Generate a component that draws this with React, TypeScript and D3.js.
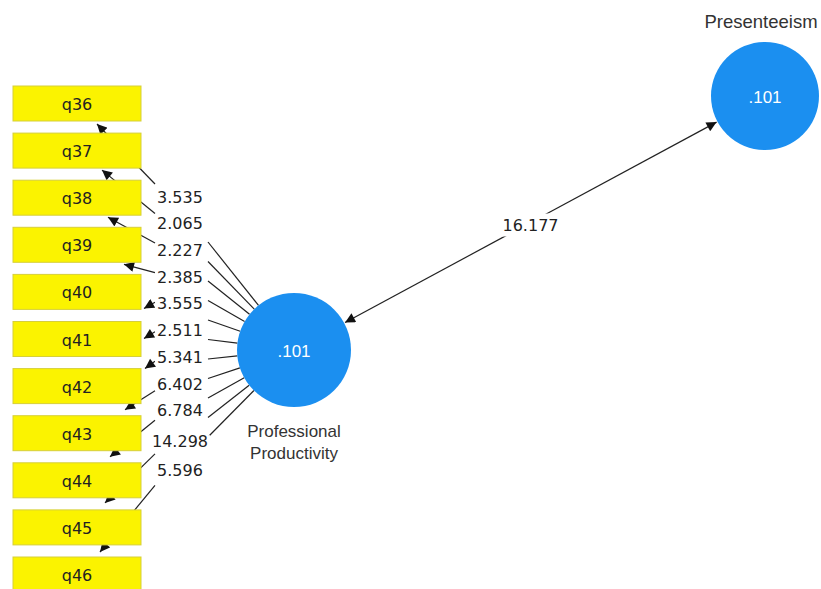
import { useEffect, useRef } from 'react';
import * as d3 from 'd3';

// indicators of "Professional Productivity"
const INDICATORS = ['q36', 'q37', 'q38', 'q39', 'q40', 'q41', 'q42', 'q43', 'q44', 'q45', 'q46'];
const T_VALUES = [3.535, 2.065, 2.227, 2.385, 3.555, 2.511, 5.341, 6.402, 6.784, 14.298, 5.596];

const CONSTRUCTS = ['Professional Productivity', 'Presenteeism'];
const R2_VALUES = [0.101, 0.101];
const PATH_T = 16.177;

// layout: where each arrow lands relative to its box (dx from left, dy from top)
const TIP_DX = [84, 89, 95, 111, 131, 131, 132, 112, 97, 92, 87];
const TIP_DY = [38, 37, 37, 37, 34, 17, 0, -6, -6, -7, -5];
const LABEL_SHIFT = [0, 0, 0, 0, 0, 0, 0, 0, 0, 4, 6];

const W = 821;
const H = 589;

export default function App() {
  const svgRef = useRef<SVGSVGElement>(null);

  useEffect(() => {
    const el = svgRef.current;
    if (!el) return;
    const svg = d3.select(el);
    svg.selectAll('*').remove();

    const boxX = 13, boxW = 128, boxH = 35;
    const idx = d3.scaleLinear().domain([0, INDICATORS.length - 1]);
    const boxY = idx.copy().range([86, 557]);
    const labelY = idx.copy().range([197, 464.4]);
    const rightY = idx.copy().range([242, 437]);
    const leftOff = idx.copy().range([-13, 15]);
    const labelX = 180;

    const pp = { x: 294, y: 350, r: 57 };
    const pres = { x: 765, y: 96, r: 54 };

    const defs = svg.append('defs');
    defs.append('marker')
      .attr('id', 'ah')
      .attr('viewBox', '0 0 10 10')
      .attr('refX', 10).attr('refY', 5)
      .attr('markerWidth', 11).attr('markerHeight', 10)
      .attr('markerUnits', 'userSpaceOnUse')
      .attr('orient', 'auto-start-reverse')
      .append('path').attr('d', 'M0,0 L10,5 L0,10 Z').attr('fill', '#111');

    svg.append('rect').attr('width', W).attr('height', H).attr('fill', '#fff');

    const g = svg.append('g');

    // connector lines: circle -> right of label, left of label -> indicator
    INDICATORS.forEach((_, i) => {
      const ly = labelY(i) + LABEL_SHIFT[i];
      const rx = 208, ry = rightY(i);
      const a = Math.atan2(ry - pp.y, rx - pp.x);
      g.append('line')
        .attr('x1', pp.x + pp.r * Math.cos(a)).attr('y1', pp.y + pp.r * Math.sin(a))
        .attr('x2', rx).attr('y2', ry)
        .attr('stroke', '#222').attr('stroke-width', 1.2);
      const tx = boxX + TIP_DX[i], ty = boxY(i) + TIP_DY[i];
      g.append('line')
        .attr('x1', 155).attr('y1', ly + leftOff(i))
        .attr('x2', tx).attr('y2', ty)
        .attr('stroke', '#222').attr('stroke-width', 1.2)
        .attr('marker-end', 'url(#ah)');
    });

    // indicator boxes
    const boxes = g.selectAll('.box').data(INDICATORS).join('g').attr('class', 'box');
    boxes.append('rect')
      .attr('x', boxX).attr('y', (_, i) => boxY(i))
      .attr('width', boxW).attr('height', boxH)
      .attr('fill', '#fbf300').attr('stroke', '#d6cf3a').attr('stroke-width', 1);
    boxes.append('text')
      .attr('x', boxX + boxW / 2).attr('y', (_, i) => boxY(i) + boxH / 2 + 1)
      .attr('text-anchor', 'middle').attr('dominant-baseline', 'central')
      .attr('font-family', "'DejaVu Sans', Verdana, sans-serif").attr('font-size', 16)
      .attr('fill', '#222')
      .text((d) => d);

    // t-value labels
    T_VALUES.forEach((v, i) => {
      const ly = labelY(i) + LABEL_SHIFT[i];
      const t = g.append('text')
        .attr('x', labelX).attr('y', ly)
        .attr('text-anchor', 'middle').attr('dominant-baseline', 'central')
        .attr('font-family', "'DejaVu Sans', Verdana, sans-serif").attr('font-size', 16)
        .attr('fill', '#222')
        .text(d3.format('.3f')(v));
      const bb = (t.node() as SVGTextElement).getBBox();
      g.insert('rect', () => t.node())
        .attr('x', bb.x - 2).attr('y', bb.y + 3)
        .attr('width', bb.width + 4).attr('height', bb.height - 6)
        .attr('fill', '#fff');
    });

    // structural path (double-headed)
    const dx = pres.x - pp.x, dy = pres.y - pp.y;
    const len = Math.hypot(dx, dy);
    const ux = dx / len, uy = dy / len;
    g.append('line')
      .attr('x1', pp.x + ux * (pp.r + 1)).attr('y1', pp.y + uy * (pp.r + 1))
      .attr('x2', pres.x - ux * (pres.r + 1)).attr('y2', pres.y - uy * (pres.r + 1))
      .attr('stroke', '#222').attr('stroke-width', 1.2)
      .attr('marker-start', 'url(#ah)').attr('marker-end', 'url(#ah)');
    const mx = (pp.x + pres.x) / 2 + 1, my = (pp.y + pres.y) / 2 + 2;
    const pt = g.append('text')
      .attr('x', mx).attr('y', my)
      .attr('text-anchor', 'middle').attr('dominant-baseline', 'central')
      .attr('font-family', "'DejaVu Sans', Verdana, sans-serif").attr('font-size', 16)
      .attr('fill', '#222')
      .text(d3.format('.3f')(PATH_T));
    const pbb = (pt.node() as SVGTextElement).getBBox();
    g.insert('rect', () => pt.node())
      .attr('x', pbb.x - 6).attr('y', pbb.y - 2)
      .attr('width', pbb.width + 12).attr('height', pbb.height + 4)
      .attr('fill', '#fff');

    // constructs
    const nodes = [pp, pres];
    nodes.forEach((n, i) => {
      g.append('circle').attr('cx', n.x).attr('cy', n.y).attr('r', n.r).attr('fill', '#1b8ff0');
      g.append('text')
        .attr('x', n.x).attr('y', n.y + 1)
        .attr('text-anchor', 'middle').attr('dominant-baseline', 'central')
        .attr('font-family', "'Liberation Sans', Arial, sans-serif").attr('font-size', 17)
        .attr('fill', '#fff')
        .text(d3.format('.3f')(R2_VALUES[i]).replace(/^0/, ''));
    });

    const lab = g.append('text')
      .attr('text-anchor', 'middle')
      .attr('font-family', "'Liberation Sans', Arial, sans-serif").attr('font-size', 17)
      .attr('fill', '#333');
    CONSTRUCTS[0].split(' ').forEach((w, i) => {
      lab.append('tspan').attr('x', pp.x).attr('y', 437 + i * 22).text(w);
    });
    g.append('text')
      .attr('x', 761).attr('y', 28)
      .attr('text-anchor', 'middle')
      .attr('font-family', "'Liberation Sans', Arial, sans-serif").attr('font-size', 18.5)
      .attr('fill', '#333')
      .text(CONSTRUCTS[1]);
  }, []);

  return (
    <div style={{ position: 'absolute', left: 0, top: 0, width: W, height: H, overflow: 'hidden' }}>
      <svg ref={svgRef} width={W} height={H} style={{ display: 'block' }} />
    </div>
  );
}
